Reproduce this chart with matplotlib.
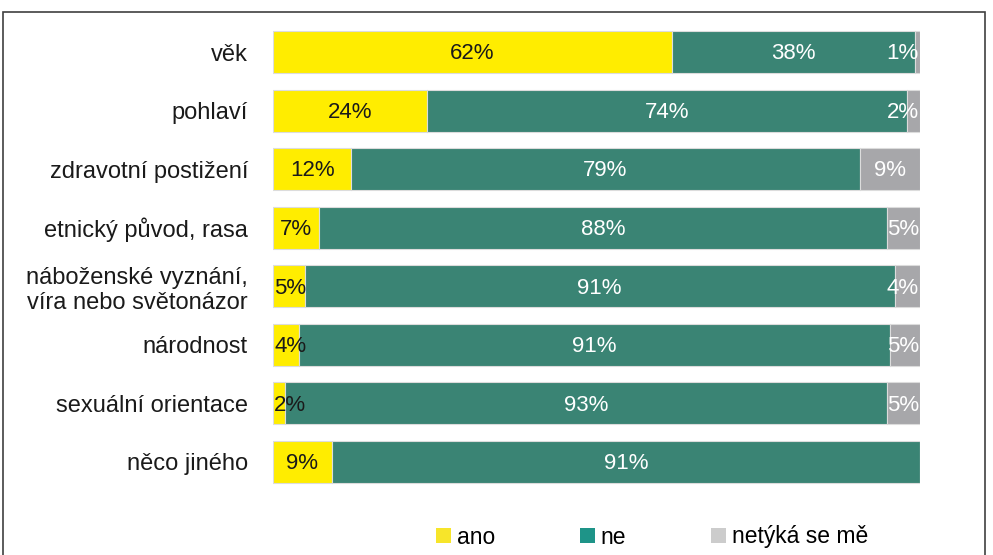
import matplotlib.pyplot as plt
from matplotlib.patches import Patch, Rectangle
import numpy as np

plt.rcParams['font.family'] = ['Liberation Sans', 'DejaVu Sans']

categories = ['věk', 'pohlaví', 'zdravotní postižení', 'etnický původ, rasa',
              'náboženské vyznání,\nvíra nebo světonázor', 'národnost',
              'sexuální orientace', 'něco jiného']
ano = [61.7, 23.8, 12.1, 7.1, 4.9, 4.0, 1.9, 9.1]
ne = [37.6, 74.2, 78.6, 87.8, 91.2, 91.3, 93.0, 90.9]
netyka = [0.7, 2.0, 9.3, 5.1, 3.9, 4.7, 5.1, 0.0]
series_names = ['ano', 'ne', 'netýká se mě']

bar_colors = ['#FFED00', '#3A8474', '#A7A7AA']
legend_colors = ['#F7E52A', '#1E9488', '#CCCCCC']
text_colors = ['#1a1a1a', 'white', 'white']

fig = plt.figure(figsize=(9.93, 5.55), dpi=100)
ax = fig.add_axes([273 / 993, 1 - 491.25 / 555, 647 / 993, 468.5 / 555])

y = np.arange(len(categories))
left = np.zeros(len(categories))
for vals, col, tcol in zip([ano, ne, netyka], bar_colors, text_colors):
    vals = np.array(vals)
    ax.barh(y, vals, left=left, height=0.72, color=col,
            edgecolor='#dcdcdc', linewidth=0.8)
    for yi, (l, v) in enumerate(zip(left, vals)):
        if v <= 0:
            continue
        c = l + v / 2
        # keep labels of thin segments inside the plot area
        if c < 2.5:
            x, ha = 0.2, 'left'
        elif c > 97.5:
            x, ha = 99.8, 'right'
        else:
            x, ha = c, 'center'
        ax.text(x, yi + 0.03, f'{v:.0f}%', ha=ha, va='center', fontsize=16,
                color=tcol)
    left += vals

ax.set_xlim(0, 100)
ax.set_ylim(len(categories) - 0.5, -0.5)
ax.set_yticks(y)
ax.set_yticklabels(categories, fontsize=17, color='#1a1a1a')
ax.tick_params(axis='y', length=0, pad=18)
ax.set_xticks([])
for s in ax.spines.values():
    s.set_visible(False)

handles = [Patch(facecolor=c, edgecolor='none') for c in legend_colors]
fig.legend(handles, series_names, loc='center left',
           bbox_to_anchor=(425 / 993, 1 - 537 / 555), ncol=3, frameon=False,
           fontsize=16.5, borderpad=0, handlelength=0.65, handleheight=0.65,
           handletextpad=0.25, columnspacing=3.7)

# outer frame
fig.patches.append(Rectangle((3 / 993, -0.05), 982 / 993, 1.05 - 12 / 555,
                             transform=fig.transFigure, fill=False,
                             edgecolor='#404040', linewidth=1.2))

fig.savefig('out.png', dpi=100)
